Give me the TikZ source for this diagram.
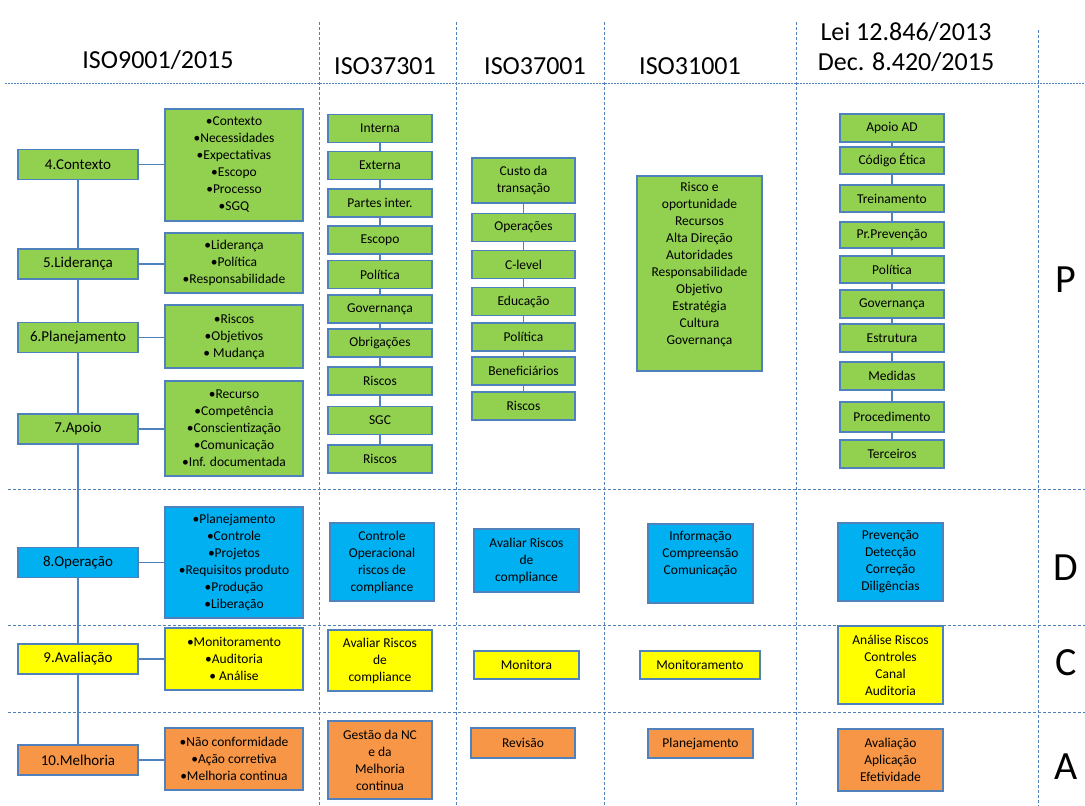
\documentclass[tikz,border=0pt]{standalone}
\usepackage{fontspec}
\setmainfont{Carlito}
\usepackage{tikz}
\usetikzlibrary{calc}
\definecolor{boxgreen}{HTML}{92D050}
\definecolor{boxblue}{HTML}{00B0F0}
\definecolor{boxyellow}{HTML}{FFFF00}
\definecolor{boxorange}{HTML}{F79646}
\definecolor{boxline}{HTML}{4F81BD}

\begin{document}
\begin{tikzpicture}[x=1pt,y=-1pt,
  every node/.style={font=\fontsize{13.5}{17}\selectfont},
  box/.style={draw=boxline, line width=1.4pt, align=center, inner sep=1pt,
              minimum width=104pt, minimum height=28pt},
  gbox/.style={box, fill=boxgreen},
  bbox/.style={box, fill=boxblue},
  ybox/.style={box, fill=boxyellow},
  obox/.style={box, fill=boxorange},
  clause/.style={minimum width=120pt, minimum height=30pt, font=\fontsize{15}{18}\selectfont},
  items/.style={minimum width=138pt},
  head/.style={font=\fontsize{26}{30}\selectfont, align=center},
  pdca/.style={font=\fontsize{40}{48}\selectfont},
  conn/.style={draw=boxline, line width=1.4pt},
  grid/.style={draw=boxline, line width=0.9pt, dash pattern=on 3pt off 2pt}]
\useasboundingbox (0,0) rectangle (1085,806);

% grid
\draw[grid, dash pattern=on 1.5pt off 1.5pt] (5,83) -- (1085,83);
\draw[grid] (8,489) -- (1085,489);
\draw[grid] (8,625) -- (1085,625);
\draw[grid] (8,712) -- (1085,712);
\draw[grid] (319,22) -- (319,806);
\draw[grid] (456,22) -- (456,806);
\draw[grid] (604,22) -- (604,806);
\draw[grid] (796,22) -- (796,806);
\draw[grid] (1038,30) -- (1038,806);

% headers
\node[head] (h1) at (158,60) {ISO9001/2015};
\node[head] (h2) at (385,66) {ISO37301};
\node[head] (h3) at (535,66) {ISO37001};
\node[head] (h4) at (690,66) {ISO31001};
\node[head] (h5) at (906,47) {Lei 12.846/2013\\Dec. 8.420/2015};

% ISO9001
\node[gbox,clause] (ctx)  at (78,164.5) {4.Contexto};
\node[gbox,clause] (lid)  at (78,264)   {5.Liderança};
\node[gbox,clause] (plan) at (78,337.5) {6.Planejamento};
\node[gbox,clause] (apo)  at (78,429)   {7.Apoio};
\node[bbox,clause] (ope)  at (78,562.5) {8.Operação};
\node[ybox,clause] (ava)  at (78,659)   {9.Avaliação};
\node[obox,clause] (mel)  at (78,760)   {10.Melhoria};

\node[gbox,items,minimum height=112pt] (ctxL) at (234,165)
  {•Contexto\\•Necessidades\\•Expectativas\\•Escopo\\•Processo\\•SGQ};
\node[gbox,items,minimum height=60pt] (lidL) at (234,263)
  {•Liderança\\•Política\\•Responsabilidade};
\node[gbox,items,minimum height=63pt] (planL) at (234,336.5)
  {•Riscos\\•Objetivos\\• Mudança};
\node[gbox,items,minimum height=95pt] (apoL) at (234,428.5)
  {•Recurso\\•Competência\\•Conscientização\\•Comunicação\\•Inf. documentada};
\node[bbox,items,minimum height=111pt] (opeL) at (234,562.5)
  {•Planejamento\\•Controle\\•Projetos\\•Requisitos produto\\•Produção\\•Liberação};
\node[ybox,items,minimum height=62pt] (avaL) at (234,659)
  {•Monitoramento\\•Auditoria\\• Análise};
\node[obox,items,minimum height=62pt] (melL) at (234,759)
  {•Não conformidade\\•Ação corretiva\\•Melhoria continua};

\path[conn]
(ctx) edge (lid)
(lid) edge (plan)
(plan) edge (apo)
(apo) edge (ope)
(ope) edge (ava)
(ava) edge (mel)
(ctx.east) edge (ctx.east -| ctxL.west)
(lid.east) edge (lid.east -| lidL.west)
(plan.east) edge (plan.east -| planL.west)
(apo.east) edge (apo.east -| apoL.west)
(ope.east) edge (ope.east -| opeL.west)
(ava.east) edge (ava.east -| avaL.west)
(mel.east) edge (mel.east -| melL.west)
;

% ISO37301
\node[gbox] (a1)  at (380,128.5) {Interna};
\node[gbox] (a2)  at (380,165.5) {Externa};
\node[gbox] (a3)  at (380,203)   {Partes inter.};
\node[gbox] (a4)  at (380,240)   {Escopo};
\node[gbox] (a5)  at (380,274.5) {Política};
\node[gbox] (a6)  at (380,309)   {Governança};
\node[gbox] (a7)  at (380,343)   {Obrigações};
\node[gbox] (a8)  at (380,381)   {Riscos};
\node[gbox] (a9)  at (380,420.5) {SGC};
\node[gbox] (a10) at (380,459)   {Riscos};
\node[bbox,minimum height=78pt] (aD) at (382,562) {Controle\\Operacional\\riscos de\\compliance};
\node[ybox,minimum height=61pt] (aC) at (380,660.5) {Avaliar Riscos\\de\\compliance};
\node[obox,minimum height=78pt] (aA) at (380,760) {Gestão da NC\\e da\\Melhoria\\continua};

\path[conn]
(a1) edge (a2) (a2) edge (a3) (a3) edge (a4) (a4) edge (a5) (a5) edge (a6)
(a6) edge (a7) (a7) edge (a8) (a8) edge (a9) (a9) edge (a10)
;

% ISO37001
\node[gbox,minimum width=103pt,minimum height=45pt] (b1) at (523.5,180.5) {Custo  da\\transação};
\node[gbox,minimum width=103pt] (b2) at (523.5,227.5) {Operações};
\node[gbox,minimum width=103pt] (b3) at (523.5,264.5) {C-level};
\node[gbox,minimum width=103pt] (b4) at (523.5,301.5) {Educação};
\node[gbox,minimum width=103pt] (b5) at (523.5,337)   {Política};
\node[gbox,minimum width=103pt] (b6) at (523.5,371)   {Beneficiários};
\node[gbox,minimum width=103pt] (b7) at (523.5,406)   {Riscos};
\node[bbox,minimum width=105pt,minimum height=63pt] (bD) at (526.5,560.5) {Avaliar Riscos\\de\\compliance};
\node[ybox,minimum width=105pt] (bC) at (526.5,665) {Monitora};
\node[obox,minimum height=30pt] (bA) at (523,743) {Revisão};

\path[conn]
(b1) edge (b2) (b2) edge (b3) (b3) edge (b4) (b4) edge (b5) (b5) edge (b6) (b6) edge (b7)
;

% ISO31001
\node[gbox,minimum width=125pt,minimum height=195pt] (cP) at (699.5,273.5)
  {Risco e\\oportunidade\\Recursos\\Alta Direção\\Autoridades\\Responsabilidade\\Objetivo\\Estratégia\\Cultura\\Governança\\[4pt]\mbox{}};
\node[bbox,minimum width=105pt,minimum height=79pt] (cD) at (700.5,563.5)
  {Informação\\Compreensão\\Comunicação\\[4pt]\mbox{}};
\node[ybox,minimum width=120pt] (cC) at (700,665) {Monitoramento};
\node[obox,minimum width=105pt,minimum height=29pt] (cA) at (700.5,743.5) {Planejamento};

% Lei 12.846 / Dec. 8.420
\node[gbox] (d1)  at (892,128)   {Apoio AD};
\node[gbox,minimum height=27pt] (d2)  at (892,160.5) {Código Ética};
\node[gbox,minimum height=27pt] (d3)  at (892,198.5) {Treinamento};
\node[gbox,minimum height=26pt] (d4)  at (892,235)   {Pr.Prevenção};
\node[gbox,minimum height=27pt] (d5)  at (892,269.5) {Política};
\node[gbox] (d6)  at (892,304)   {Governança};
\node[gbox] (d7)  at (892,338)   {Estrutura};
\node[gbox] (d8)  at (892,376)   {Medidas};
\node[gbox,minimum height=30pt] (d9)  at (892,417) {Procedimento};
\node[gbox] (d10) at (892,454)   {Terceiros};
\node[bbox,minimum width=105pt,minimum height=78pt] (dD) at (890.5,562) {Prevenção\\Detecção\\Correção\\Diligências};
\node[ybox,minimum width=105pt,minimum height=78pt] (dC) at (890.5,665) {Análise Riscos\\Controles\\Canal\\Auditoria};
\node[obox,minimum width=105pt,minimum height=62pt] (dA) at (890.5,760) {Avaliação\\Aplicação\\Efetividade};

\path[conn]
(d1) edge (d2) (d2) edge (d3) (d3) edge (d4) (d4) edge (d5) (d5) edge (d6)
(d6) edge (d7) (d7) edge (d8) (d8) edge (d9) (d9) edge (d10)
;

% PDCA
\node[pdca] (P) at (1066,280) {P};
\node[pdca] (D) at (1066,568) {D};
\node[pdca] (C) at (1066,663) {C};
\node[pdca] (A) at (1066,767) {A};
\end{tikzpicture}
\end{document}
